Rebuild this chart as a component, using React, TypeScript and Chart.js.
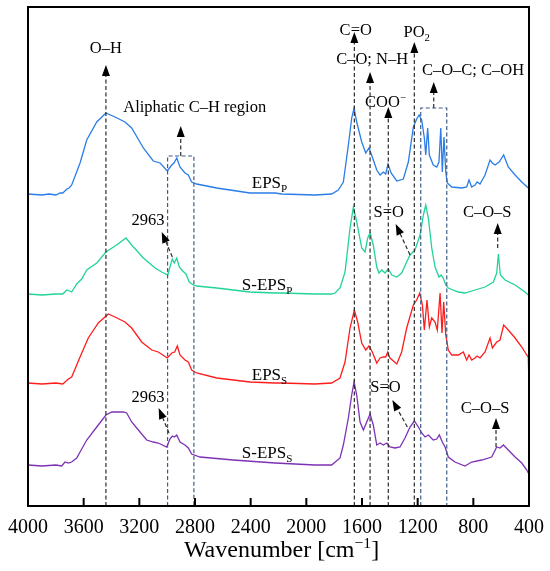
import React, { useEffect, useRef } from "react";
import { Chart, registerables } from "chart.js";

Chart.register(...registerables);

const FONT = "'Liberation Serif', 'Times New Roman', serif";

// x-axis tick labels (cm-1)
const xTickValues = [4000, 3600, 3200, 2800, 2400, 2000, 1600, 1200, 800, 400];

// EPS_P (blue)
const epsPWn = [4000, 3900, 3850, 3800, 3770, 3750, 3735, 3720, 3705, 3686, 3626, 3578, 3506, 3440, 3375, 3303, 3255, 3171, 3100, 3051, 2999, 2967, 2951, 2931, 2908, 2872, 2848, 2824, 2788, 2644, 2405, 2225, 2177, 1938, 1818, 1770, 1734, 1698, 1674, 1657, 1638, 1602, 1573, 1550, 1526, 1494, 1470, 1447, 1430, 1413, 1391, 1350, 1303, 1267, 1231, 1207, 1190, 1171, 1152, 1142, 1128, 1116, 1088, 1063, 1047, 1034, 1023, 1011, 998, 987, 955, 883, 848, 831, 812, 788, 773, 752, 716, 680, 663, 644, 615, 582, 549, 500, 452, 405, 400];
const epsPInt = [312, 311, 312, 311, 313, 313, 315, 317, 318, 321, 343, 366, 384, 393, 389, 384, 378, 358, 345, 343, 335, 341, 343, 348, 339, 333, 331, 324, 322, 318, 313, 313, 312, 311, 312, 316, 324, 361, 388, 398, 384, 364, 353, 358, 349, 336, 331, 334, 332, 342, 333, 325, 327, 344, 379, 387, 391, 386, 368, 351, 378, 351, 341, 339, 344, 378, 334, 369, 334, 323, 319, 318, 319, 326, 319, 321, 324, 322, 331, 346, 343, 341, 344, 351, 339, 331, 324, 318, 317];

// S-EPS_P (green)
const sepsPWn = [4000, 3900, 3800, 3750, 3722, 3700, 3686, 3650, 3614, 3578, 3506, 3440, 3363, 3296, 3255, 3171, 3087, 3039, 2996, 2980, 2963, 2949, 2931, 2913, 2888, 2865, 2841, 2812, 2788, 2644, 2405, 2225, 2177, 1938, 1818, 1794, 1758, 1722, 1686, 1662, 1638, 1602, 1578, 1559, 1542, 1519, 1494, 1478, 1458, 1435, 1411, 1386, 1350, 1315, 1279, 1255, 1219, 1183, 1159, 1142, 1123, 1099, 1075, 1047, 1032, 1016, 998, 980, 908, 860, 788, 716, 656, 632, 620, 606, 572, 500, 429, 405, 400];
const sepsPInt = [212, 211, 212, 212, 216, 215, 214, 222, 227, 236, 243, 254, 261, 268, 261, 248, 238, 234, 231, 239, 247, 243, 248, 239, 235, 232, 224, 221, 220, 218, 214, 213, 213, 212, 212, 213, 218, 234, 278, 299, 284, 258, 254, 268, 273, 261, 239, 233, 236, 233, 237, 231, 229, 233, 244, 251, 256, 271, 291, 301, 288, 258, 239, 229, 231, 228, 221, 218, 214, 213, 216, 219, 224, 233, 252, 231, 226, 221, 214, 211, 210];

// EPS_S (red)
const epsSWn = [4000, 3900, 3800, 3750, 3710, 3686, 3626, 3567, 3495, 3423, 3375, 3303, 3255, 3183, 3111, 3064, 2999, 2967, 2946, 2927, 2908, 2872, 2848, 2824, 2788, 2644, 2405, 2225, 2177, 1938, 1818, 1758, 1722, 1686, 1655, 1631, 1602, 1573, 1550, 1526, 1494, 1470, 1447, 1430, 1415, 1399, 1350, 1315, 1279, 1231, 1207, 1185, 1166, 1152, 1133, 1116, 1099, 1075, 1059, 1039, 1025, 1013, 998, 980, 955, 908, 872, 848, 831, 812, 788, 773, 752, 716, 680, 663, 632, 608, 582, 549, 500, 452, 416, 405, 401, 400];
const epsSInt = [123, 122, 123, 122, 127, 129, 149, 168, 183, 192, 189, 184, 178, 164, 156, 154, 148, 153, 154, 160, 151, 146, 144, 136, 133, 128, 124, 123, 123, 122, 123, 128, 144, 178, 196, 184, 163, 156, 160, 154, 143, 148, 149, 149, 154, 148, 142, 154, 178, 201, 206, 213, 201, 176, 206, 179, 188, 184, 176, 213, 173, 204, 171, 156, 151, 151, 154, 146, 151, 146, 148, 150, 148, 154, 168, 158, 164, 166, 181, 176, 168, 159, 151, 149, 149, 120];

// S-EPS_S (purple)
const sepsSWn = [4000, 3900, 3800, 3758, 3734, 3710, 3686, 3650, 3626, 3578, 3506, 3440, 3398, 3315, 3291, 3255, 3195, 3147, 3100, 3064, 3003, 2980, 2963, 2949, 2931, 2908, 2872, 2848, 2824, 2764, 2525, 2225, 1938, 1818, 1758, 1734, 1698, 1674, 1657, 1638, 1614, 1590, 1566, 1542, 1519, 1494, 1470, 1447, 1422, 1399, 1363, 1327, 1291, 1255, 1224, 1195, 1171, 1147, 1123, 1088, 1063, 1044, 1023, 1003, 980, 932, 860, 812, 740, 668, 632, 608, 584, 549, 500, 452, 416, 405, 400];
const sepsSInt = [41, 40, 41, 40, 44, 43, 44, 48, 54, 66, 79, 91, 94, 94, 93, 84, 74, 66, 64, 63, 59, 67, 70, 69, 71, 64, 61, 58, 52, 49, 46, 43, 41, 41, 48, 61, 88, 111, 124, 111, 84, 76, 84, 92, 81, 61, 63, 61, 63, 59, 58, 59, 68, 79, 85, 79, 73, 69, 71, 66, 67, 71, 64, 59, 49, 44, 40, 44, 46, 49, 59, 58, 61, 56, 49, 43, 36, 33, 32];

// Band assignments: vertical dashed lines from the axis up to an arrow tip
const bandWn = [3440, 1655, 1542, 1411, 1224];
const bandTip = [441, 474, 434, 399, 464];

// Region boxes: [from, to] wavenumbers, box top, arrow tip
const boxFrom = [2997, 1178];
const boxTo = [2808, 991];
const boxTop = [350, 398];
const boxTip = [380, 424];

// Slanted / short arrows: base (wn, int) -> tip (wn, int)
const arrowBaseWn = [2963, 2987, 1255, 1274, 625, 637];
const arrowBaseInt = [249, 73, 251, 79, 258, 59];
const arrowTipWn = [3039, 3061, 1358, 1382, 625, 637];
const arrowTipInt = [274, 98, 282, 106, 283, 88];

type Part = { t: string; s?: "sub" | "sup" };

// Text labels: parts, wavenumber, baseline intensity
const labelParts: Part[][] = [
  [{ t: "O–H" }],
  [{ t: "Aliphatic C–H region" }],
  [{ t: "2963" }],
  [{ t: "2963" }],
  [{ t: "C=O" }],
  [{ t: "C–O; N–H" }],
  [{ t: "COO" }, { t: "−", s: "sup" }],
  [{ t: "PO" }, { t: "2", s: "sub" }],
  [{ t: "C–O–C; C–OH" }],
  [{ t: "S=O" }],
  [{ t: "C–O–S" }],
  [{ t: "S=O" }],
  [{ t: "C–O–S" }],
];
const labelWn = [3441, 2802, 3138, 3138, 1645, 1527, 1431, 1207, 802, 1408, 700, 1431, 716];
const labelInt = [453, 394, 281, 104, 471, 442, 399, 469, 431, 289, 289, 114, 93];

// Series names
const seriesNames: Part[][] = [
  [{ t: "EPS" }, { t: "P", s: "sub" }],
  [{ t: "S-EPS" }, { t: "P", s: "sub" }],
  [{ t: "EPS" }, { t: "S", s: "sub" }],
  [{ t: "S-EPS" }, { t: "S", s: "sub" }],
];
const seriesNameWn = [2392, 2464, 2392, 2464];
const seriesNameInt = [318, 216, 126, 48];

const seriesColors = ["#2a7de6", "#22d39a", "#ff1c1c", "#7d32b6"];

function drawRich(ctx: CanvasRenderingContext2D, parts: Part[], x: number, y: number, size: number, align: "center" | "left") {
  const widths = parts.map((p) => {
    ctx.font = `${p.s ? size * 0.65 : size}px ${FONT}`;
    return ctx.measureText(p.t).width;
  });
  const total = widths.reduce((a, b) => a + b, 0);
  let cx = align === "center" ? x - total / 2 : x;
  ctx.textAlign = "left";
  ctx.textBaseline = "alphabetic";
  parts.forEach((p, i) => {
    ctx.font = `${p.s ? size * 0.65 : size}px ${FONT}`;
    const dy = p.s === "sub" ? size * 0.25 : p.s === "sup" ? -size * 0.38 : 0;
    ctx.fillText(p.t, cx, y + dy);
    cx += widths[i];
  });
}

function drawArrow(ctx: CanvasRenderingContext2D, x0: number, y0: number, x1: number, y1: number) {
  const head = 11;
  const half = 4;
  const dx = x1 - x0;
  const dy = y1 - y0;
  const L = Math.hypot(dx, dy) || 1;
  const ux = dx / L;
  const uy = dy / L;
  const bx = x1 - ux * head;
  const by = y1 - uy * head;
  ctx.setLineDash([4, 2.5]);
  ctx.beginPath();
  ctx.moveTo(x0, y0);
  ctx.lineTo(bx, by);
  ctx.stroke();
  ctx.setLineDash([]);
  ctx.beginPath();
  ctx.moveTo(x1, y1);
  ctx.lineTo(bx - uy * half, by + ux * half);
  ctx.lineTo(bx + uy * half, by - ux * half);
  ctx.closePath();
  ctx.fill();
}

const annotationPlugin = {
  id: "ftirAnnotations",
  afterDatasetsDraw(chart: any) {
    const ctx: CanvasRenderingContext2D = chart.ctx;
    const xs = chart.scales.x;
    const ys = chart.scales.y;
    const px = (w: number) => xs.getPixelForValue(w);
    const py = (v: number) => ys.getPixelForValue(v);
    const area = chart.chartArea;
    ctx.save();

    // band lines
    ctx.lineWidth = 1.2;
    ctx.strokeStyle = "#2b2b2b";
    ctx.fillStyle = "#000";
    bandWn.forEach((w, i) => {
      drawArrow(ctx, px(w), area.bottom, px(w), py(bandTip[i]));
    });

    // region boxes
    boxFrom.forEach((f, i) => {
      const t = boxTo[i];
      ctx.strokeStyle = "#3e5c86";
      ctx.setLineDash([4, 2.5]);
      ctx.beginPath();
      ctx.moveTo(px(f), area.bottom);
      ctx.lineTo(px(f), py(boxTop[i]));
      ctx.lineTo(px(t), py(boxTop[i]));
      ctx.lineTo(px(t), area.bottom);
      ctx.stroke();
      ctx.strokeStyle = "#2b2b2b";
      const mid = (f + t) / 2;
      drawArrow(ctx, px(mid), py(boxTop[i]), px(mid), py(boxTip[i]));
    });

    // other arrows
    arrowBaseWn.forEach((w, i) => {
      drawArrow(ctx, px(w), py(arrowBaseInt[i]), px(arrowTipWn[i]), py(arrowTipInt[i]));
    });

    // labels
    ctx.fillStyle = "#000";
    labelParts.forEach((p, i) => {
      drawRich(ctx, p, px(labelWn[i]), py(labelInt[i]), 16.5, "center");
    });
    seriesNames.forEach((p, i) => {
      drawRich(ctx, p, px(seriesNameWn[i]), py(seriesNameInt[i]), 17, "left");
    });

    // frame
    ctx.setLineDash([]);
    ctx.strokeStyle = "#000";
    ctx.lineWidth = 2;
    ctx.strokeRect(area.left, area.top, area.right - area.left, area.bottom - area.top);

    // inward ticks
    xTickValues.forEach((w) => {
      const x = px(w);
      ctx.beginPath();
      ctx.moveTo(x, area.bottom);
      ctx.lineTo(x, area.bottom - 8);
      ctx.stroke();
    });

    // axis title
    drawRich(
      ctx,
      [{ t: "Wavenumber [cm" }, { t: "−1", s: "sup" }, { t: "]" }],
      (area.left + area.right) / 2 + 3,
      chart.height - 14,
      24,
      "center"
    );
    ctx.restore();
  },
};

export default function App() {
  const ref = useRef<HTMLCanvasElement | null>(null);
  useEffect(() => {
    if (!ref.current) return;
    const mk = (wn: number[], v: number[]) => wn.map((w, i) => ({ x: w, y: v[i] }));
    const sets = [mk(epsPWn, epsPInt), mk(sepsPWn, sepsPInt), mk(epsSWn, epsSInt), mk(sepsSWn, sepsSInt)];
    const names = ["EPS_P", "S-EPS_P", "EPS_S", "S-EPS_S"];
    const chart = new Chart(ref.current, {
      type: "line",
      data: {
        datasets: sets.map((d, i) => ({
          label: names[i],
          data: d,
          borderColor: seriesColors[i],
          borderWidth: 1.3,
          pointRadius: 0,
          tension: 0,
          fill: false,
        })),
      },
      options: {
        animation: false,
        responsive: false,
        devicePixelRatio: 1,
        layout: { padding: { left: 28, right: 21, top: 7, bottom: 0 } },
        plugins: { legend: { display: false }, tooltip: { enabled: false } },
        scales: {
          x: {
            type: "linear",
            reverse: true,
            min: 400,
            max: 4000,
            afterFit: (s: any) => {
              s.height = 65;
              s.paddingLeft = 0;
              s.paddingRight = 0;
            },
            afterBuildTicks: (s: any) => {
              s.ticks = xTickValues.map((v) => ({ value: v }));
            },
            ticks: {
              font: { family: FONT, size: 20 },
              color: "#000",
              padding: 10,
              maxRotation: 0,
              autoSkip: false,
              callback: (v: any) => String(v),
            },
            grid: { display: false, drawTicks: false },
            border: { display: false },
          },
          y: {
            display: false,
            min: 0,
            max: 499,
          },
        },
      },
      plugins: [annotationPlugin],
    });
    return () => chart.destroy();
  }, []);
  return (
    <div style={{ position: "absolute", left: 0, top: 0, width: 550, height: 571, background: "#fff" }}>
      <canvas ref={ref} width={550} height={571} style={{ width: 550, height: 571 }} />
    </div>
  );
}
